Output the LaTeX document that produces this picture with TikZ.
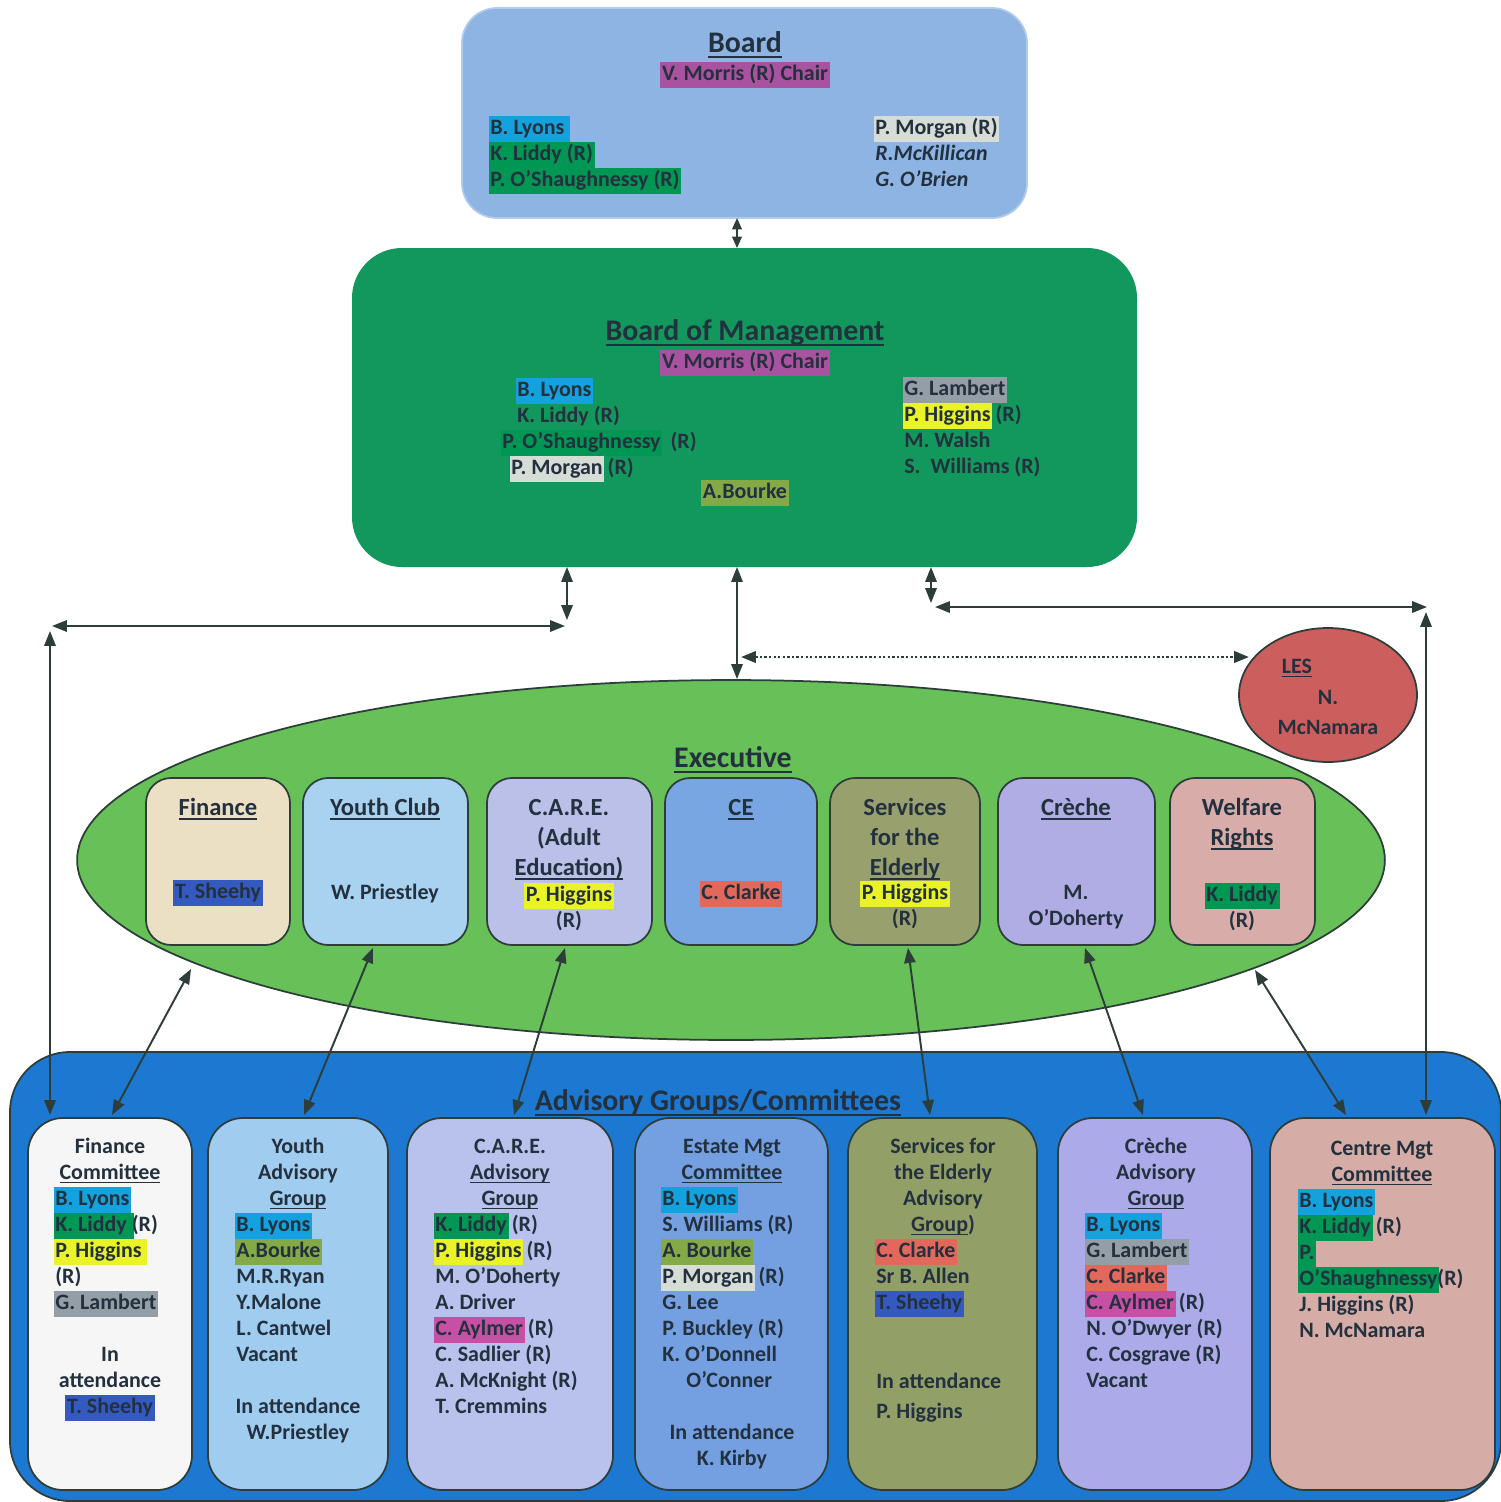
\documentclass[tikz,border=0pt]{standalone}
\usepackage{fontspec}
\setmainfont{Carlito}
\usetikzlibrary{arrows.meta,fit,shapes.geometric}

\definecolor{inkc}{RGB}{35,48,62}
\definecolor{linec}{RGB}{45,62,58}
\definecolor{boardblue}{RGB}{142,180,228}
\definecolor{bomgreen}{RGB}{18,152,92}
\definecolor{execgreen}{RGB}{104,192,88}
\definecolor{advblue}{RGB}{28,120,208}
\definecolor{lesred}{RGB}{204,94,94}
% executive boxes
\definecolor{finbeige}{RGB}{236,224,196}
\definecolor{youthblue}{RGB}{168,210,240}
\definecolor{carelav}{RGB}{186,192,232}
\definecolor{ceblue}{RGB}{120,166,226}
\definecolor{elderolive}{RGB}{152,160,110}
\definecolor{crechelav}{RGB}{176,172,228}
\definecolor{welfpink}{RGB}{216,172,168}
% advisory boxes
\definecolor{advwhite}{RGB}{246,246,246}
\definecolor{advyouth}{RGB}{160,204,240}
\definecolor{advcare}{RGB}{184,194,236}
\definecolor{advestate}{RGB}{116,160,226}
\definecolor{advelder}{RGB}{146,160,104}
\definecolor{advcreche}{RGB}{172,170,232}
\definecolor{advcentre}{RGB}{214,172,166}
% highlights
\definecolor{hlblue}{RGB}{20,162,222}
\definecolor{hlgreen}{RGB}{0,150,84}
\definecolor{hlpurple}{RGB}{168,82,160}
\definecolor{hlsilver}{RGB}{214,220,214}
\definecolor{hlgray}{RGB}{148,158,166}
\definecolor{hlyellow}{RGB}{234,242,40}
\definecolor{hlolive}{RGB}{132,170,72}
\definecolor{hlred}{RGB}{226,104,92}
\definecolor{hlpink}{RGB}{200,80,164}
\definecolor{hldblue}{RGB}{52,90,192}

\newcommand\fTitle{\fontsize{17}{20}\selectfont\bfseries}
\newcommand\fHead{\fontsize{14}{17}\selectfont\bfseries}
\newcommand\fName{\fontsize{12.5}{14.8}\selectfont\bfseries}
\newcommand\nst{\rule[-4.4pt]{0pt}{14.8pt}}
\newcommand\hst{\rule[-4.8pt]{0pt}{17pt}}
\newcommand\hili[2]{\kern-1pt\relax{\setlength{\fboxsep}{0pt}\colorbox{#1}{\kern1pt\relax\nst#2\kern1pt\relax}}\kern-1pt\relax}
\newcommand\undl[1]{\setbox0=\hbox{#1}\rlap{\rule[-0.17em]{\wd0}{0.07em}}\box0}

\tikzset{
    every node/.style={text=inkc, inner sep=0pt},
    panel/.style={rounded corners=#1, inner sep=0pt, line width=1pt},
    exbox/.style={panel=0.5cm, draw=linec, fill=#1},
    advbox/.style={panel=0.7cm, draw=linec, fill=#1},
    link/.style={<->, >={Triangle[length=8.5pt,width=6.5pt]}, draw=linec, line width=1.1pt},
    ttl/.style={font=\fTitle},
    head/.style={font=\fHead, align=center, anchor=north},
    lst/.style={font=\fName, align=left, anchor=north west},
    ctr/.style={font=\fName, align=center, anchor=north},
}

\begin{document}
\begin{tikzpicture}[x=0.02cm, y=-0.02cm]

    \useasboundingbox (0,0) rectangle (1501,1502);

    % Board
    \node[panel=0.7cm, fill=boardblue, draw=boardblue!70!white, fit={(462,8) (1027,218)}] (board) {};
    \node[ttl] (boardT) at (745,45) {\undl{Board}};
    \node[font=\fName] (boardC) at (745,75) {\hili{hlpurple}{V. Morris (R) Chair}};
    \node[lst] (boardL) at (490,116) {\hili{hlblue}{B. Lyons\kern2pt}\\\hili{hlgreen}{K. Liddy (R)}\\\hili{hlgreen}{P. O’Shaughnessy (R)}};
    \node[lst] (boardR) at (875,116) {\hili{hlsilver}{P. Morgan (R)}\\\itshape R.McKillican\\\itshape G. O’Brien};

    % Board of Management
    \node[panel=1cm, fill=bomgreen, fit={(352,248) (1137,567)}] (bom) {};
    \node[ttl] (bomT) at (745,333) {\undl{Board of Management}};
    \node[font=\fName] (bomC) at (745,363) {\hili{hlpurple}{V. Morris (R) Chair}};
    \node[lst] (bomL) at (517,378) {\hili{hlblue}{B. Lyons}\\K. Liddy (R)\\\hspace*{-8.5pt}\hili{hlgreen}{P. O’Shaughnessy}\ \ (R)\\\hspace*{-3.4pt}\hili{hlsilver}{P. Morgan} (R)};
    \node[lst] (bomR) at (904,377) {\hili{hlgray}{G. Lambert}\\\hili{hlyellow}{P. Higgins} (R)\\M. Walsh\\S.\ \ Williams (R)};
    \node[font=\fName] (bomB) at (745,493) {\hili{hlolive}{A.Bourke}};

    % LES
    \node[ellipse, draw=linec, line width=1pt, fill=lesred, minimum width=3.56cm, minimum height=2.68cm] (les) at (1328,695) {};
    \node[font=\fName] (lesT) at (1297,668) {\undl{LES}};
    \node[ctr] (lesN) at (1328,686) {\nst N.\\[2.2pt]McNamara};

    % Executive
    \node[ellipse, draw=linec, line width=1pt, fill=execgreen, minimum width=26.16cm, minimum height=7.2cm] (exec) at (731,860) {};
    \node[ttl] (execT) at (733,760) {\undl{Executive}};

    \node[exbox=finbeige, fit={(146,778) (290,945)}] (exfin) {};
    \node[exbox=youthblue, fit={(303,778) (468,945)}] (exyouth) {};
    \node[exbox=carelav, fit={(487,778) (652,945)}] (excare) {};
    \node[exbox=ceblue, fit={(665,778) (817,945)}] (exce) {};
    \node[exbox=elderolive, fit={(830,778) (980,945)}] (exelder) {};
    \node[exbox=crechelav, fit={(998,778) (1155,945)}] (excreche) {};
    \node[exbox=welfpink, fit={(1170,778) (1315,945)}] (exwelf) {};

    \node[head] (exfinT) at (218,794) {\hst\undl{Finance}};
    \node[ctr] (exfinN) at (218,880) {\hili{hldblue}{T. Sheehy}};
    \node[head] (exyouthT) at (385,794) {\hst\undl{Youth Club}};
    \node[ctr] (exyouthN) at (385,881) {\nst W. Priestley};
    \node[head] (excareT) at (569,794) {\hst C.A.R.E.\\(Adult\\\undl{Education)}};
    \node[ctr] (excareN) at (569,883) {\hili{hlyellow}{P. Higgins}\\(R)};
    \node[head] (exceT) at (741,794) {\hst\undl{CE}};
    \node[ctr] (exceN) at (741,881) {\hili{hlred}{C. Clarke}};
    \node[head] (exelderT) at (905,794) {\hst Services\\for the\\\undl{Elderly}};
    \node[ctr] (exelderN) at (905,881) {\hili{hlyellow}{P. Higgins}\\(R)};
    \node[head] (excrecheT) at (1076,794) {\hst\undl{Crèche}};
    \node[ctr] (excrecheN) at (1076,881) {\nst M.\\O’Doherty};
    \node[head] (exwelfT) at (1242,794) {\hst Welfare\\\undl{Rights}};
    \node[ctr] (exwelfN) at (1242,883) {\hili{hlgreen}{K. Liddy}\\(R)};

    % Advisory Groups/Committees
    \node[panel=1.2cm, draw=linec, fill=advblue, fit={(10,1052) (1501,1501)}] (adv) {};
    \node[ttl] (advT) at (718,1103) {\undl{Advisory Groups/Committees}};

    \node[advbox=advwhite, fit={(28,1118) (192,1490)}] (adfin) {};
    \node[advbox=advyouth, fit={(208,1118) (388,1490)}] (adyouth) {};
    \node[advbox=advcare, fit={(407,1118) (613,1490)}] (adcare) {};
    \node[advbox=advestate, fit={(635,1118) (828,1490)}] (adestate) {};
    \node[advbox=advelder, fit={(848,1118) (1037,1490)}] (adelder) {};
    \node[advbox=advcreche, fit={(1058,1118) (1252,1490)}] (adcreche) {};
    \node[advbox=advcentre, fit={(1270,1118) (1495,1490)}] (adcentre) {};

    % Finance Committee
    \node[ctr] (adfinT) at (110,1135) {\nst Finance\\\undl{Committee}};
    \node[lst] (adfinL) at (55,1187) {\hili{hlblue}{B. Lyons}\\\hili{hlgreen}{K. Liddy }(R)\\\hili{hlyellow}{P. Higgins\kern2pt}\\(R)\\\hili{hlgray}{G. Lambert}};
    \node[ctr] (adfinA) at (110,1343) {\nst In\\attendance\\\hili{hldblue}{T. Sheehy}};
    % Youth Advisory Group
    \node[ctr] (adyouthT) at (298,1135) {\nst Youth\\Advisory\\\undl{Group}};
    \node[lst] (adyouthL) at (236,1213) {\hili{hlblue}{B. Lyons}\\\hili{hlolive}{A.Bourke}\\M.R.Ryan\\Y.Malone\\L. Cantwel\\Vacant};
    \node[ctr] (adyouthA) at (298,1395) {\nst In attendance\\W.Priestley};
    % C.A.R.E. Advisory Group
    \node[ctr] (adcareT) at (510,1135) {\nst C.A.R.E.\\\undl{Advisory}\\\undl{Group}};
    \node[lst] (adcareL) at (435,1213) {\hili{hlgreen}{K. Liddy} (R)\\\hili{hlyellow}{P. Higgins} (R)\\M. O’Doherty\\A. Driver\\\hili{hlpink}{C. Aylmer} (R)\\C. Sadlier (R)\\A. McKnight (R)\\T. Cremmins};
    % Estate Mgt Committee
    \node[ctr] (adestateT) at (732,1135) {\nst Estate Mgt\\\undl{Committee}};
    \node[lst] (adestateL) at (662,1187) {\hili{hlblue}{B. Lyons}\\S. Williams (R)\\\hili{hlolive}{A. Bourke}\\\hili{hlsilver}{P. Morgan} (R)\\G. Lee\\P. Buckley (R)\\K. O’Donnell\\\hspace*{13.7pt}O’Conner};
    \node[ctr] (adestateA) at (732,1421) {\nst In attendance\\K. Kirby};
    % Services for the Elderly Advisory Group
    \node[ctr] (adelderT) at (943,1135) {\nst Services for\\the Elderly\\Advisory\\\undl{Group})};
    \node[lst] (adelderL) at (876,1239) {\hili{hlred}{C. Clarke}\\Sr B. Allen\\\hili{hldblue}{T. Sheehy}};
    \node[lst] (adelderA) at (876,1370) {\nst In attendance\\[2pt]P. Higgins};
    % Creche Advisory Group
    \node[ctr] (adcrecheT) at (1156,1135) {\nst Crèche\\Advisory\\\undl{Group}};
    \node[lst] (adcrecheL) at (1086,1213) {\hili{hlblue}{B. Lyons}\\\hili{hlgray}{G. Lambert}\\\hili{hlred}{C. Clarke}\\\hili{hlpink}{C. Aylmer} (R)\\N. O’Dwyer (R)\\C. Cosgrave (R)\\Vacant};
    % Centre Mgt Committee
    \node[ctr] (adcentreT) at (1382,1137) {\nst Centre Mgt\\\undl{Committee}};
    \node[lst] (adcentreL) at (1299,1189) {\hili{hlblue}{B. Lyons}\\\hili{hlgreen}{K. Liddy} (R)\\\hili{hlgreen}{P.}\\\hili{hlgreen}{O’Shaughnessy}(R)\\J. Higgins (R)\\N. McNamara};

    % connector ends
    \coordinate (boardB) at (737,218);
    \coordinate (bomTop) at (737,248);
    \coordinate (bomL) at (567,567);
    \coordinate (bomLd) at (567,620);
    \coordinate (leftH) at (565,626);
    \coordinate (leftC) at (52,626);
    \coordinate (leftV) at (50,631);
    \coordinate (leftB) at (50,1115);
    \coordinate (bomM) at (737,567);
    \coordinate (execTop) at (737,679);
    \coordinate (dotL) at (741,657);
    \coordinate (dotR) at (1249,657);
    \coordinate (bomR) at (931,567);
    \coordinate (bomRd) at (931,603);
    \coordinate (rightH) at (935,607);
    \coordinate (rightC) at (1427,607);
    \coordinate (rightV) at (1426,612);
    \coordinate (rightB) at (1426,1115);

    \coordinate (finUp) at (191,969);   \coordinate (finDn) at (112,1115);
    \coordinate (youthUp) at (373,948); \coordinate (youthDn) at (304,1115);
    \coordinate (careUp) at (565,948);  \coordinate (careDn) at (514,1115);
    \coordinate (elderUp) at (908,948); \coordinate (elderDn) at (930,1115);
    \coordinate (crecheUp) at (1085,948); \coordinate (crecheDn) at (1143,1115);
    \coordinate (welfUp) at (1255,970); \coordinate (welfDn) at (1346,1115);

    % connectors
    \draw[link, >={Triangle[length=6.5pt,width=5.5pt]}] (boardB) -- (bomTop);
    \draw[link] (bomL) -- (bomLd);
    \draw[link] (leftC) -- (leftH);
    \draw[link] (leftV) -- (leftB);
    \draw[link] (bomM) -- (execTop);
    \draw[link, line width=1.5pt, dash pattern=on 1.3pt off 1.3pt] (dotL) -- (dotR);
    \draw[link] (bomR) -- (bomRd);
    \draw[link] (rightH) -- (rightC);
    \draw[link] (rightV) -- (rightB);

    \draw[link] (finUp) -- (finDn);
    \draw[link] (youthUp) -- (youthDn);
    \draw[link] (careUp) -- (careDn);
    \draw[link] (elderUp) -- (elderDn);
    \draw[link] (crecheUp) -- (crecheDn);
    \draw[link] (welfUp) -- (welfDn);

\end{tikzpicture}
\end{document}
